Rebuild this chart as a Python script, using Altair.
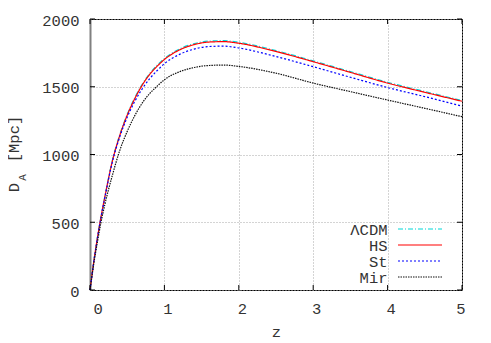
import altair as alt
import pandas as pd

# ---- data ----
z = [0, 0.05, 0.1, 0.15, 0.2, 0.3, 0.4, 0.5, 0.6, 0.7, 0.8, 0.9, 1.0, 1.2, 1.4,
     1.6, 1.8, 2.0, 2.5, 3.0, 3.5, 4.0, 4.5, 5.0]
lcdm = [0, 207, 388, 548, 690, 955, 1146, 1296, 1417, 1517, 1597, 1657, 1708, 1778,
        1818, 1837, 1840, 1828, 1767, 1691, 1612, 1533, 1465, 1398]
hs = [0, 206, 386, 546, 688, 950, 1140, 1290, 1410, 1510, 1590, 1650, 1701, 1771,
      1811, 1830, 1833, 1821, 1760, 1685, 1606, 1527, 1459, 1393]
st = [0, 205, 384, 543, 683, 944, 1130, 1275, 1390, 1483, 1558, 1618, 1670, 1738,
      1778, 1797, 1800, 1786, 1723, 1648, 1570, 1494, 1427, 1357]
mir = [0, 190, 355, 505, 632, 845, 1030, 1170, 1285, 1378, 1448, 1503, 1552, 1610,
       1642, 1657, 1660, 1650, 1600, 1527, 1464, 1402, 1341, 1279]

series_names = ["ΛCDM", "HS", "St", "Mir"]
series_values = [lcdm, hs, st, mir]
x_ticks = [0, 1, 2, 3, 4, 5]
y_ticks = [0, 500, 1000, 1500, 2000]

# ---- styles ----
series_colors = ["#00d8d8", "#ff0000", "#0000ff", "#111111"]
series_dash = [[5, 2, 1, 2], [1, 0], [2, 2], [1.5, 1]]
FONT = "Liberation Mono"
FS = 15.5
TXT = "#333333"
W, H = 372, 271
TICK = 5

rows = []
for name, vals in zip(series_names, series_values):
    for zi, di in zip(z, vals):
        rows.append({"series": name, "z": zi, "D": di})
df = pd.DataFrame(rows)

xscale = alt.Scale(domain=[0, 5], nice=False, zero=False)
yscale = alt.Scale(domain=[0, 2000], nice=False)

x_axis = alt.Axis(values=x_ticks, format="d", grid=True, gridColor="#a8a8a8",
                  gridDash=[1, 2], gridWidth=1, ticks=False, tickSize=0, domain=False,
                  labelPadding=11, labelOffset=3, labelFont=FONT, labelFontSize=FS,
                  labelColor=TXT, title="z", titleFont=FONT, titleFontSize=FS,
                  titleFontWeight="normal", titleColor=TXT, titlePadding=8)
y_axis = alt.Axis(values=y_ticks, format="d", grid=True, gridColor="#a8a8a8",
                  gridDash=[1, 2], gridWidth=1, ticks=False, tickSize=0, domain=True,
                  domainColor="#808080", domainWidth=2,
                  labelPadding=11, labelOffset=1, labelFont=FONT, labelFontSize=FS,
                  labelColor=TXT, title=None)

main_layers = []
for name, color, dash in zip(series_names, series_colors, series_dash):
    main_layers.append(
        alt.Chart(df).transform_filter(alt.datum.series == name)
        .mark_line(color=color, strokeDash=dash, strokeWidth=1.2, interpolate="monotone")
        .encode(x=alt.X("z:Q", scale=xscale, axis=x_axis),
                y=alt.Y("D:Q", scale=yscale, axis=y_axis))
    )

# inward tick marks on all four sides
xt = pd.DataFrame({"z": x_ticks})
yt = pd.DataFrame({"D": y_ticks})
tick_layers = [
    alt.Chart(xt).mark_rule(color="black", strokeWidth=1).encode(
        x=alt.X("z:Q", scale=xscale, axis=x_axis), y=alt.value(0), y2=alt.value(TICK)),
    alt.Chart(xt).mark_rule(color="black", strokeWidth=1).encode(
        x=alt.X("z:Q", scale=xscale, axis=x_axis), y=alt.value(H - TICK), y2=alt.value(H)),
    alt.Chart(yt).mark_rule(color="black", strokeWidth=1).encode(
        y=alt.Y("D:Q", scale=yscale, axis=y_axis), x=alt.value(0), x2=alt.value(TICK)),
    alt.Chart(yt).mark_rule(color="black", strokeWidth=1).encode(
        y=alt.Y("D:Q", scale=yscale, axis=y_axis), x=alt.value(W - TICK), x2=alt.value(W)),
]

main = alt.layer(*(main_layers + tick_layers))

# legend (labels left, samples right), inside plot bottom-right
leg_df = pd.DataFrame({"series": series_names})
leg_scale = alt.Scale(type="point", domain=series_names, range=[210, 258], padding=0)
leg_text = alt.Chart(leg_df).mark_text(
    align="right", baseline="middle", font=FONT, fontSize=FS, color=TXT, dy=1
).encode(x=alt.value(297.5), y=alt.Y("series:N", scale=leg_scale, axis=None),
         text="series:N")
leg_rule = alt.Chart(leg_df).mark_rule(strokeWidth=1.2).encode(
    x=alt.value(308), x2=alt.value(352),
    y=alt.Y("series:N", scale=leg_scale, axis=None),
    color=alt.Color("series:N", scale=alt.Scale(domain=series_names, range=series_colors), legend=None),
    strokeDash=alt.StrokeDash("series:N", scale=alt.Scale(domain=series_names, range=series_dash), legend=None),
)
legend = alt.layer(leg_text, leg_rule)

# y-axis title D_A [Mpc] with subscript
one = pd.DataFrame({"t": [0]})
ytitle = alt.layer(
    alt.Chart(one).mark_text(text="D", angle=270, align="center", baseline="alphabetic",
                             font=FONT, fontSize=FS, color=TXT)
    .encode(x=alt.value(-71.5), y=alt.value(168.5)),
    alt.Chart(one).mark_text(text="A", angle=270, align="center", baseline="alphabetic",
                             font=FONT, fontSize=11, color=TXT)
    .encode(x=alt.value(-64.5), y=alt.value(158.5)),
    alt.Chart(one).mark_text(text="[Mpc]", angle=270, align="center", baseline="alphabetic",
                             font=FONT, fontSize=FS, color=TXT)
    .encode(x=alt.value(-71.5), y=alt.value(120)),
)

chart = alt.layer(main, legend, ytitle).resolve_scale(y="independent").properties(
    width=W, height=H,
    autosize=alt.AutoSizeParams(type="none"),
    padding={"left": 82, "top": 11, "right": 21, "bottom": 52},
    background="white",
).configure_view(stroke="black", strokeWidth=1)

chart.save("out.html", embed_options={"renderer": "svg", "actions": False})
